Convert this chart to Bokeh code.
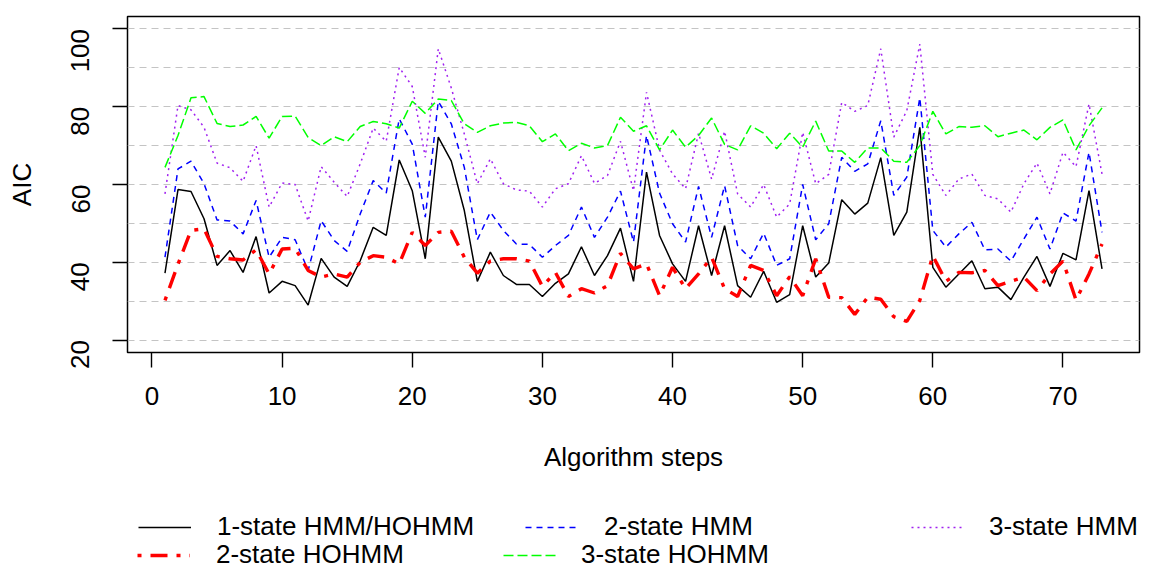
import math
from bokeh.plotting import figure
from bokeh.layouts import column
from bokeh.models import Range1d, FixedTicker, Legend, LegendItem, Grid
from bokeh.embed import file_html
from bokeh.resources import INLINE

steps = list(range(1, 74))

one_state = [37.2, 58.7, 58.2, 51.2, 39.2, 43.0, 37.4, 46.6, 32.1, 35.1,
             34.0, 29.0, 41.0, 36.2, 33.8, 40.4, 49.0, 46.9, 66.3, 58.4,
             40.9, 72.2, 66.0, 53.3, 35.1, 42.6, 36.6, 34.3, 34.3, 31.2,
             34.6, 37.0, 44.0, 36.6, 41.7, 48.8, 35.1, 63.2, 46.9, 39.6,
             35.1, 49.4, 36.6, 49.4, 34.0, 31.0, 37.7, 29.7, 31.7, 49.4,
             36.2, 39.8, 56.1, 52.4, 55.2, 66.9, 46.9, 52.9, 74.7, 38.7,
             33.6, 37.0, 40.4, 33.2, 33.6, 30.4, 36.2, 41.5, 33.8, 42.3,
             40.6, 58.4, 38.3]

hohmm2 = [30.2, 39.5, 48.2, 48.6, 41.5, 40.9, 40.6, 43.2, 37.0, 43.4,
          43.6, 37.9, 36.2, 37.0, 36.2, 40.0, 41.7, 41.3, 39.6, 47.7,
          44.3, 47.7, 48.0, 41.3, 37.2, 40.3, 40.9, 40.9, 40.3, 33.8,
          37.4, 31.2, 33.2, 32.1, 34.0, 42.3, 38.3, 39.6, 31.4, 38.7,
          33.2, 37.0, 41.3, 33.2, 31.2, 39.2, 37.9, 31.4, 36.3, 31.4,
          40.9, 31.0, 30.9, 26.6, 31.0, 30.5, 26.0, 24.8, 30.2, 41.7,
          35.1, 37.4, 37.3, 37.9, 34.0, 35.1, 36.2, 32.7, 37.0, 40.3,
          30.3, 37.0, 44.7]

hmm2 = [41.3, 64.0, 66.0, 60.2, 50.9, 50.6, 47.3, 55.9, 41.3, 46.4,
        45.8, 37.9, 50.7, 45.6, 42.8, 52.4, 61.0, 57.8, 76.9, 70.4,
        51.6, 81.4, 75.6, 64.4, 45.8, 52.9, 48.2, 44.7, 44.6, 41.3,
        44.3, 46.9, 54.2, 46.4, 51.6, 58.3, 45.2, 72.6, 57.8, 49.9,
        45.2, 59.5, 46.4, 59.7, 44.3, 40.9, 47.5, 39.2, 40.9, 60.0,
        45.8, 49.9, 67.0, 63.4, 65.3, 76.4, 57.2, 61.9, 82.3, 48.2,
        43.9, 47.3, 50.3, 43.2, 43.4, 40.3, 46.0, 51.6, 43.4, 52.7,
        50.6, 68.3, 47.7]

hmm3 = [57.6, 80.3, 79.2, 74.7, 65.5, 64.3, 60.8, 70.0, 54.2, 60.4,
        60.0, 50.6, 64.6, 60.6, 56.9, 65.3, 74.5, 71.1, 90.1, 85.2,
        67.0, 94.9, 84.8, 73.0, 60.2, 66.6, 60.2, 58.6, 58.3, 54.2,
        58.9, 60.2, 67.4, 60.3, 62.3, 71.1, 58.4, 83.7, 68.9, 62.7,
        58.9, 73.2, 61.4, 73.7, 57.6, 54.2, 60.0, 51.6, 55.0, 73.4,
        60.2, 62.6, 81.1, 78.8, 80.3, 94.9, 72.2, 79.0, 96.1, 62.6,
        57.2, 61.4, 62.7, 57.2, 56.3, 52.9, 60.2, 65.5, 57.6, 68.3,
        64.6, 80.7, 62.7]

hohmm3 = [64.4, 72.6, 82.3, 82.6, 75.7, 74.9, 75.3, 77.5, 71.9, 77.5,
          77.6, 72.1, 70.0, 72.3, 71.0, 74.9, 76.2, 75.6, 74.5, 81.4,
          78.3, 82.0, 81.6, 75.6, 73.4, 75.1, 75.8, 76.0, 75.1, 71.0,
          73.0, 68.7, 70.6, 69.4, 70.0, 77.3, 73.7, 75.1, 68.9, 74.0,
          69.6, 72.6, 77.1, 70.3, 68.9, 75.1, 73.2, 69.2, 73.2, 69.6,
          76.3, 68.6, 68.6, 65.7, 69.4, 69.4, 66.0, 65.7, 70.0, 78.8,
          73.0, 74.9, 74.7, 75.1, 72.3, 73.2, 74.0, 71.5, 74.7, 76.6,
          68.9, 75.1, 79.7]

labels = ["1-state HMM/HOHMM", "2-state HOHMM", "2-state HMM",
          "3-state HOHMM", "3-state HMM"]
x_ticks = [0, 10, 20, 30, 40, 50, 60, 70]
y_ticks = [20, 40, 60, 80, 100]
y_grid = [20, 30, 40, 50, 60, 70, 80, 90, 100]

FONT = "Liberation Sans"
FS = "26px"
W = 1145

styles = {
    "black": dict(line_color="#000000", line_width=1.5),
    "red": dict(line_color="#FF0000", line_width=3.4, line_dash="4 9 17 9"),
    "blue": dict(line_color="#0000FF", line_width=1.5, line_dash="6 5"),
    "green": dict(line_color="#00FF00", line_width=1.5, line_dash="10 4"),
    "purple": dict(line_color="#A020F0", line_width=1.5, line_dash="2 4"),
}
series = {"black": one_state, "red": hohmm2, "blue": hmm2,
          "green": hohmm3, "purple": hmm3}

x_range = Range1d(-1.88, 75.88)

p = figure(width=W, height=490, output_backend="svg", toolbar_location=None,
           x_range=x_range, y_range=Range1d(16.8, 103.2),
           min_border_left=127, min_border_right=6, min_border_top=16,
           min_border_bottom=138)
p.background_fill_color = "white"
p.border_fill_color = "white"
p.outline_line_color = "black"
p.outline_line_width = 1.5
p.xgrid.visible = False
p.ygrid.visible = False

grid = Grid(dimension=1, ticker=FixedTicker(ticks=y_grid),
            grid_line_color="#C4C4C4", grid_line_width=1.2,
            grid_line_dash="7 5")
p.add_layout(grid)

for ax in (p.xaxis[0], p.yaxis[0]):
    ax.axis_line_color = None
    ax.major_tick_line_color = "black"
    ax.major_tick_line_width = 1.4
    ax.major_tick_out = 15
    ax.major_tick_in = 0
    ax.minor_tick_line_color = None
    ax.major_label_text_font = FONT
    ax.major_label_text_font_size = FS
    ax.major_label_text_color = "black"
    ax.axis_label_text_font = FONT
    ax.axis_label_text_font_size = FS
    ax.axis_label_text_font_style = "normal"
    ax.axis_label_text_color = "black"

p.xaxis.ticker = FixedTicker(ticks=x_ticks)
p.yaxis.ticker = FixedTicker(ticks=y_ticks)
p.xaxis.axis_label = "Algorithm steps"
p.yaxis.axis_label = "AIC"
p.xaxis.major_label_standoff = 19
p.xaxis.axis_label_standoff = 34
p.yaxis.major_label_orientation = math.pi / 2
p.yaxis.major_label_standoff = 32
p.yaxis.axis_label_standoff = 23

for key in ["black", "blue", "purple", "green", "red"]:
    p.line(steps, series[key], **styles[key])

# legend panel below the chart; its lines lie outside its visible y range,
# only their legend glyphs show
q = figure(width=W, height=80, output_backend="svg", toolbar_location=None,
           x_range=x_range, y_range=Range1d(0, 1),
           x_axis_type=None, y_axis_type=None,
           min_border_left=127, min_border_right=6, min_border_top=0,
           min_border_bottom=0)
q.outline_line_color = None
q.xgrid.visible = False
q.ygrid.visible = False
q.background_fill_color = "white"
q.border_fill_color = "white"

# (style, label, frame-relative x of glyph start, bottom y of item box, standoff)
entries = [
    ("black", labels[0], 11, 28, 26),
    ("red", labels[1], 10, 0, 26),
    ("blue", labels[2], 398, 28, 26),
    ("green", labels[3], 376, 0, 25),
    ("purple", labels[4], 784, 28, 25),
]
for key, lab, lx, ly, so in entries:
    r = q.line(steps, series[key], **styles[key])
    leg = Legend(items=[LegendItem(label=lab, renderers=[r])],
                 location=(lx, ly), padding=0, margin=0, spacing=0,
                 border_line_color=None, background_fill_alpha=0,
                 glyph_width=53, glyph_height=30, label_height=30,
                 label_standoff=so, label_text_font=FONT,
                 label_text_font_size=FS, label_text_color="black")
    q.add_layout(leg)

open("out.html", "w").write(file_html(column(p, q, spacing=0), INLINE))
